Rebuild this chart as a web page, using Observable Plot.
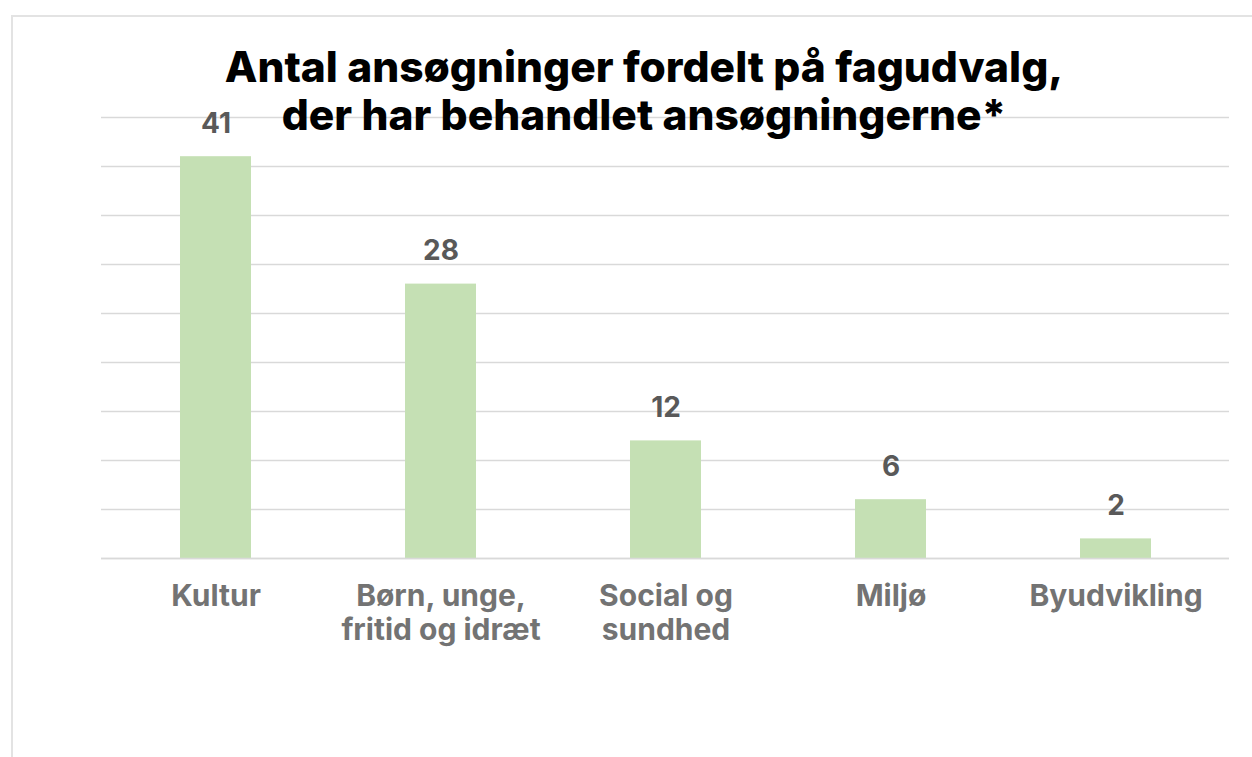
<!DOCTYPE html>
<html>
<head>
<meta charset="utf-8">
<script src="https://cdn.jsdelivr.net/npm/d3@7"></script>
<script src="https://cdn.jsdelivr.net/npm/@observablehq/plot@0.6"></script>
<style>
  html, body { margin: 0; padding: 0; background: #fff; width: 1252px; height: 757px; overflow: hidden; }
  #frame { position: absolute; left: 11px; top: 15px; width: 1260px; height: 760px; border-top: 2px solid #e3e3e3; border-left: 2px solid #e3e3e3; }
  #chart { position: absolute; left: 0; top: 0; }
  #title { position: absolute; left: 0; width: 1288px; top: 43px; text-align: center; font-family: Inter, sans-serif; font-weight: 800; font-size: 42.5px; line-height: 48px; color: #000; z-index: 2; letter-spacing: 0px; }
</style>
</head>
<body>
<div id="frame"></div>
<div id="chart"></div>
<div id="title">Antal ansøgninger fordelt på fagudvalg,<br>der har behandlet ansøgningerne*</div>
<script>
const categories = ["Kultur", "Børn, unge,\nfritid og idræt", "Social og\nsundhed", "Miljø", "Byudvikling"];
const values = [41, 28, 12, 6, 2];
const gridTicks = [0, 5, 10, 15, 20, 25, 30, 35, 40, 45];

const data = categories.map((c, i) => ({cat: c, value: values[i]}));

const chart = Plot.plot({
  width: 1252,
  height: 757,
  marginLeft: 101,
  marginRight: 23,
  marginTop: 117,
  marginBottom: 199,
  style: {fontFamily: "Inter, sans-serif", background: "transparent"},
  x: {domain: categories, paddingInner: 0.685, paddingOuter: 0.3425, axis: null},
  y: {domain: [0, 45], axis: null},
  marks: [
    Plot.ruleY(gridTicks, {stroke: "#d9d9d9", strokeWidth: 1.6}),
    Plot.barY(data, {x: "cat", y: "value", fill: "#c5e0b4"}),
    Plot.ruleY([0], {stroke: "#d9d9d9", strokeWidth: 1.6}),
    Plot.text(data, {x: "cat", y: "value", text: d => String(d.value), dy: -24, lineAnchor: "bottom", fontSize: 28, fontWeight: 700, fill: "#595959"}),
    Plot.text(data, {x: "cat", y: 0, text: "cat", dy: 24, lineAnchor: "top", fontSize: 30, fontWeight: 700, fill: "#737373", lineHeight: 1.12, letterSpacing: 0.4})
  ]
});
document.getElementById("chart").appendChild(chart);
</script>
</body>
</html>
